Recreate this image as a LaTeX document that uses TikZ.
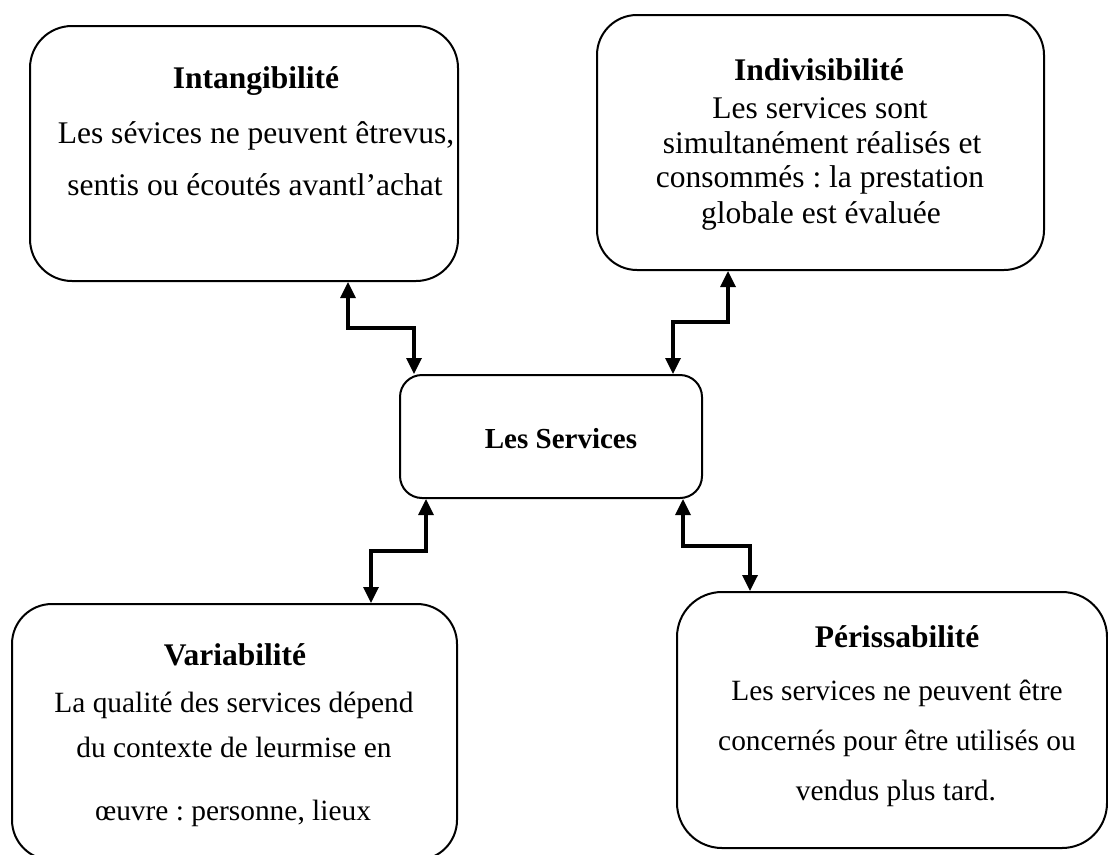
\documentclass[tikz,border=0pt]{standalone}
\usepackage{fontspec}
\setmainfont{Liberation Serif}
\usetikzlibrary{arrows.meta}
\frenchspacing

\begin{document}
\begin{tikzpicture}[x=1pt,y=-1pt,
  box/.style={draw=black,line width=2pt,rounded corners=#1,inner sep=0pt,fill=none},
  box/.default=40pt,
  txt/.style={anchor=base,inner sep=0pt,font=\fontsize{31.5}{36}\selectfont},
  txts/.style={txt,font=\fontsize{29.4}{34}\selectfont},
  ttl/.style={txt,font=\fontsize{31.5}{36}\selectfont\bfseries},
  link/.style={line width=3.3pt,
    {Triangle[width=15pt,length=16pt]}-{Triangle[width=15pt,length=16pt]}}
]
\useasboundingbox[fill=white] (0,0) rectangle (1108,854);

% the five boxes
\node[box=42pt,minimum width=428pt,minimum height=255pt] (intang) at (244,153.5) {};
\node[box=40pt,minimum width=447pt,minimum height=255pt] (indiv) at (820.5,142.5) {};
\node[box=22pt,minimum width=302pt,minimum height=123pt] (serv) at (551,436.5) {};
\node[box=40pt,minimum width=445pt,minimum height=256pt] (variab) at (234.5,732) {};
\node[box=45pt,minimum width=430pt,minimum height=256pt] (periss) at (892,720) {};

% Intangibilité
\node[ttl] (intang-t) at (256,88) {Intangibilité};
\node[txt] (intang-1) at (256,143) {Les sévices ne peuvent êtrevus,};
\node[txt] (intang-2) at (255,195) {sentis ou écoutés avantl’achat};

% Indivisibilité
\node[ttl] (indiv-t) at (819,80) {Indivisibilité};
\node[txt] (indiv-1) at (820,118) {Les services sont};
\node[txt] (indiv-2) at (822,153) {simultanément réalisés et};
\node[txt] (indiv-3) at (820,187) {consommés : la prestation};
\node[txt] (indiv-4) at (821,223) {globale est évaluée};

% centre
\node[ttl,font=\fontsize{29}{34}\selectfont\bfseries] (serv-t) at (561,448) {Les Services};

% Variabilité
\node[ttl] (variab-t) at (235,665) {Variabilité};
\node[txts] (variab-1) at (234,712) {La qualité des services dépend};
\node[txts] (variab-2) at (234,757) {du contexte de leurmise en};
\node[txts] (variab-3) at (233,820) {œuvre : personne, lieux};

% Périssabilité
\node[ttl] (periss-t) at (897,647) {Périssabilité};
\node[txts] (periss-1) at (897,700) {Les services ne peuvent être};
\node[txts] (periss-2) at (897,750) {concernés pour être utilisés ou};
\node[txts] (periss-3) at (896,800) {vendus plus tard.};

% bend points of the stepped connectors
\coordinate (k1) at (348,328); \coordinate (k1b) at (414,328);
\coordinate (k2) at (728,322); \coordinate (k2b) at (673,322);
\coordinate (k3) at (426,551); \coordinate (k3b) at (371,551);
\coordinate (k4) at (683,546); \coordinate (k4b) at (750,546);

\draw[link] (intang.south -| k1) -- (k1) -- (k1b) -- (serv.north -| k1b);
\draw[link] (indiv.south -| k2) -- (k2) -- (k2b) -- (serv.north -| k2b);
\draw[link] (serv.south -| k3) -- (k3) -- (k3b) -- (variab.north -| k3b);
\draw[link] (serv.south -| k4) -- (k4) -- (k4b) -- (periss.north -| k4b);
\end{tikzpicture}
\end{document}
